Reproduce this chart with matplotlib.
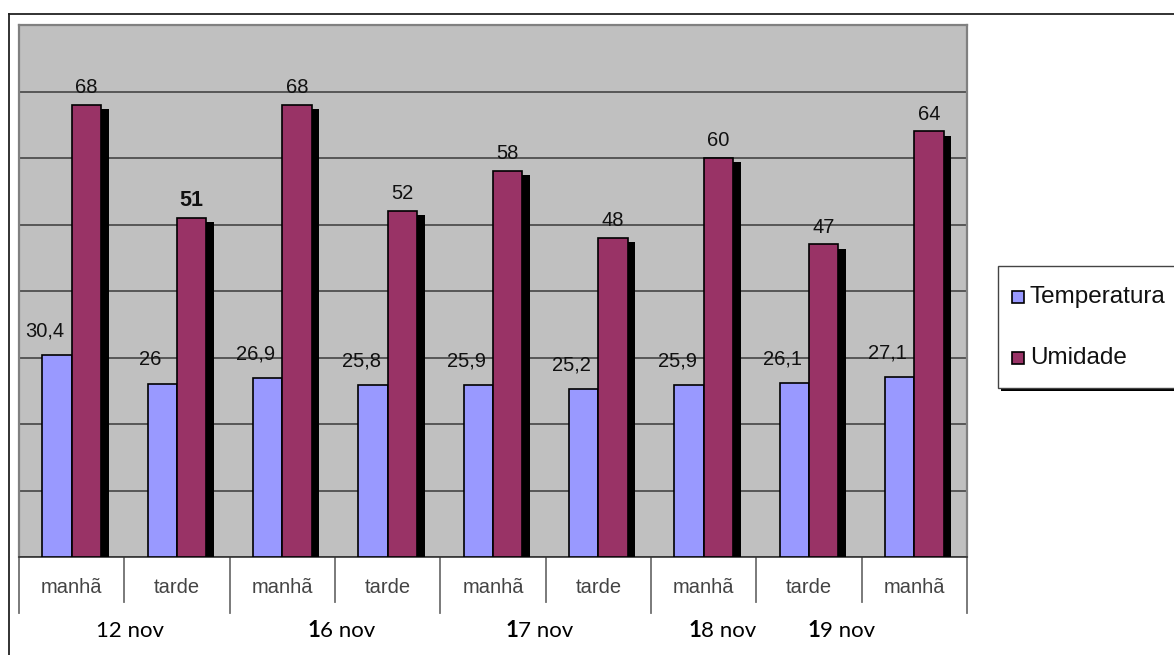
import numpy as np
import matplotlib
matplotlib.use("Agg")
import matplotlib.pyplot as plt
import matplotlib.patheffects as pe
from matplotlib.patches import Rectangle
from matplotlib.lines import Line2D

# dados do grafico
periodos = ["manhã", "tarde", "manhã", "tarde", "manhã", "tarde", "manhã", "tarde", "manhã"]
temperatura = [30.4, 26, 26.9, 25.8, 25.9, 25.2, 25.9, 26.1, 27.1]
umidade = [68, 51, 68, 52, 58, 48, 60, 47, 64]
umid_negrito = [1]                       # o "51" aparece em negrito
datas = ["12 nov", "16 nov", "17 nov", "18 nov", "19 nov"]
datas_negrito = [False, True, True, True, True]   # primeiro digito em negrito
datas_pos = [0.55, 2.62, 4.5, 6.24, 7.37]
grupos = [2, 2, 2, 3]                    # colunas por bloco (18/19 sem separador)

W, H = 1174, 655
fig = plt.figure(figsize=(W / 100, H / 100), dpi=100)
ax = fig.add_axes([19 / W, 1 - 557 / H, (967 - 19) / W, (557 - 25) / H])
ax.set_facecolor("#C0C0C0")

arial = "Liberation Sans"
x = np.arange(len(periodos))
w = 0.28

ax.bar(x, temperatura, width=-w, align="edge", color="#9999FF",
       edgecolor="black", linewidth=1.2, zorder=3)
sombra = [pe.SimplePatchShadow(offset=(5.5, -3), shadow_rgbFace="black", alpha=1), pe.Normal()]
ax.bar(x, umidade, width=w, align="edge", color="#993366",
       edgecolor="black", linewidth=1.2, zorder=4, path_effects=sombra)

for i, v in enumerate(temperatura):
    ax.annotate(f"{v:g}".replace(".", ","), (x[i] - w / 2, v), xytext=(-8.5, 13.5),
                textcoords="offset points", ha="center", va="baseline",
                fontsize=14.5, family=arial, color="#111111", zorder=6)
for i, v in enumerate(umidade):
    ax.annotate(str(v), (x[i] + w / 2, v), xytext=(0, 8.5),
                textcoords="offset points", ha="center", va="baseline",
                fontsize=15.5 if i in umid_negrito else 14.5,
                weight="bold" if i in umid_negrito else "normal",
                family=arial, color="#111111", zorder=6)

ax.set_xlim(-0.5, len(periodos) - 0.5)
ax.set_ylim(0, 80)
ax.set_yticks(np.arange(0, 81, 10))
ax.set_xticks([])
ax.yaxis.grid(True, color="#3a3a3a", linewidth=1.1)
ax.set_axisbelow(True)
ax.tick_params(left=False, labelleft=False)
for s in ["top", "right", "left"]:
    ax.spines[s].set_color("#808080")
    ax.spines[s].set_linewidth(1.6)
ax.spines["bottom"].set_color("#333333")
ax.spines["bottom"].set_linewidth(1.2)

# tabela de categorias abaixo do eixo
tr = ax.get_xaxis_transform()
for i, p in enumerate(periodos):
    ax.text(x[i], -0.058, p, transform=tr, ha="center", va="center",
            fontsize=14.5, family=arial, color="#444444")

limites = np.cumsum([0] + grupos) - 0.5
for b in np.arange(-0.5, len(periodos)):
    y0 = -0.105 if b in limites else -0.085
    ax.add_line(Line2D([b, b], [0, y0], transform=tr, color="#707070",
                       linewidth=1.3, clip_on=False))

for d, pos, neg in zip(datas, datas_pos, datas_negrito):
    resto = d[1:] if neg else d
    t = ax.text(pos, -0.14, resto, transform=tr, ha="center", va="center",
                fontsize=16, family="Lato", color="black")
    if neg:
        ax.annotate(d[0], xy=(0, 0), xycoords=t, ha="right", va="bottom",
                    fontsize=16, family="Lato", weight="bold", color="black")

# legenda
lx0, ly0, ly1 = 998 / W, 1 - 388 / H, 1 - 266 / H
fig.patches.append(Rectangle((lx0 + 3 / W, ly0 - 3 / H), 1, ly1 - ly0,
                             transform=fig.transFigure, facecolor="black", zorder=1))
fig.patches.append(Rectangle((lx0, ly0), 1, ly1 - ly0, transform=fig.transFigure,
                             facecolor="white", edgecolor="#444444", linewidth=1, zorder=2))
for nome, cor, yy in [("Temperatura", "#9999FF", 297), ("Umidade", "#993366", 358)]:
    fig.patches.append(Rectangle((1012 / W, 1 - (yy + 6) / H), 12 / W, 12 / H,
                                 transform=fig.transFigure, facecolor=cor,
                                 edgecolor="black", linewidth=1.2, zorder=3))
    fig.text(1030 / W, 1 - yy / H, nome, ha="left", va="center", fontsize=17.5,
             family=arial, color="#111111", zorder=4)

# moldura externa
fig.add_artist(Line2D([9 / W, 1], [1 - 14 / H, 1 - 14 / H], transform=fig.transFigure,
                      color="#222222", linewidth=1.3))
fig.add_artist(Line2D([9 / W, 9 / W], [0, 1 - 14 / H], transform=fig.transFigure,
                      color="#222222", linewidth=1.3))

fig.savefig("out.png", dpi=100)
